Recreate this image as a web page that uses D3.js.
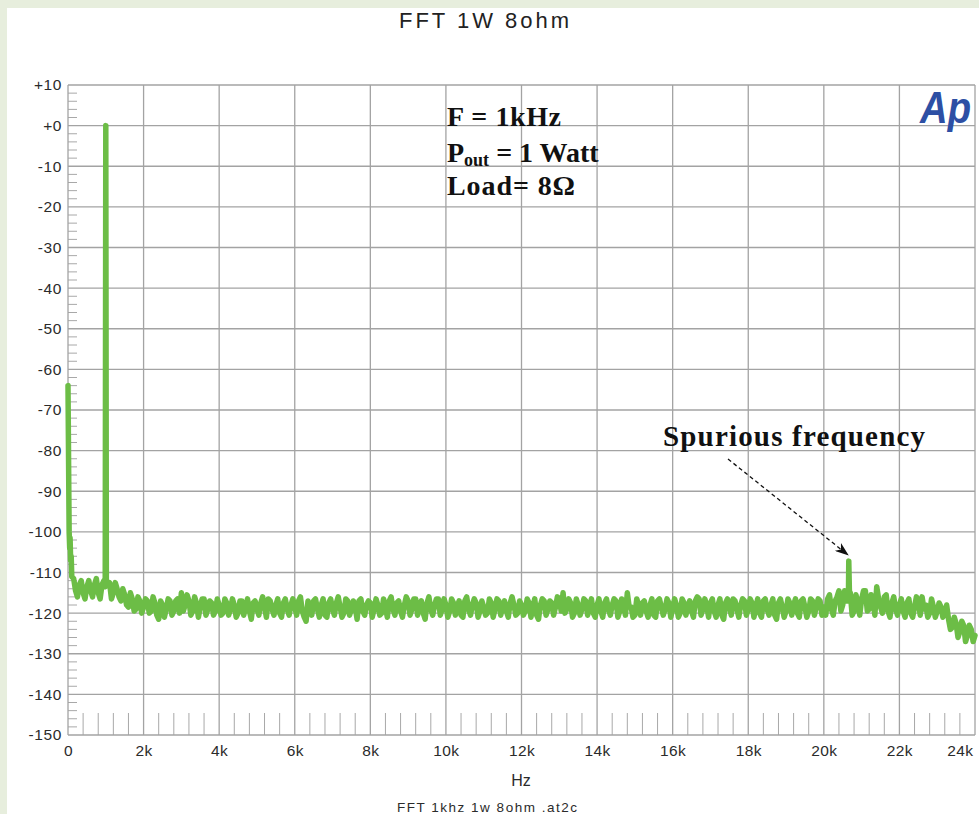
<!DOCTYPE html>
<html>
<head>
<meta charset="utf-8">
<script src="https://cdn.jsdelivr.net/npm/d3@7"></script>
<style>
  html, body { margin: 0; padding: 0; background: #e7eedd; }
  svg { display: block; }
</style>
</head>
<body>
<svg id="chart" width="979" height="814"></svg>
<script>
// FFT trace, one reading every 100 Hz from 0 Hz to 24 kHz (dBV)
var binStepHz = 100;
var noiseDb = [
    -64, -111, -114.5, -113, -115, -113.5, -114.5, -113, -115, -113,
    0, -112.5, -115, -114, -117, -115.5, -118.5, -116.5, -119, -117,
    -118.5, -117, -119.5, -117.5, -121.5, -118, -119, -117, -119.5, -116.5,
    -115, -118, -117, -119.5, -117.5, -118.5, -116.5, -119, -117.5, -119.5,
    -118, -120, -117.5, -119, -118, -120, -117, -118.5, -119.5, -117.5,
    -119, -117.5, -118.5, -116.5, -119, -118, -120, -117.5, -119, -118,
    -118.5, -117, -119.5, -122, -118, -117, -119, -118, -120.5, -117.5,
    -119, -117.5, -118.5, -120, -117, -119, -118.5, -117, -119.5, -118,
    -117.5, -119, -118, -120, -118.5, -117, -119, -117.5, -119.5, -118,
    -117, -119, -116.5, -118.5, -120, -117.5, -119, -118, -116.5, -119,
    -118, -119.5, -117.5, -118.5, -120.5, -117, -119, -118, -117.5, -119.5,
    -118.5, -120, -117.5, -119, -117, -118.5, -119.5, -117.5, -118, -120,
    -118, -119.5, -117.5, -118.5, -120.5, -118, -117, -119, -117.5, -118.5,
    -116.5, -115, -119, -117.5, -120, -118, -119, -117, -118.5, -120,
    -118, -119.5, -117.5, -119, -118, -117, -119.5, -118, -115, -118.5,
    -120.5, -118, -117.5, -119.5, -118, -120.5, -117, -118.5, -119, -117.5,
    -119, -118, -120, -117.5, -118.5, -119.5, -117, -116.5, -119, -118,
    -117.5, -119.5, -118, -120.5, -117.5, -118.5, -116.5, -119, -118, -117,
    -119, -117.5, -118.5, -120, -117, -119, -118, -120.5, -117.5, -118.5,
    -119.5, -117.5, -118, -120, -117, -118.5, -119.5, -117, -118.5, -117,
    -118.5, -116.5, -119, -117, -114.5, -118, -117, -115, -119.5, -117.5,
    -116.5, -114.5, -119, -117, -113.5, -118.5, -116, -119.5, -117.5, -119,
    -118, -119.5, -117.5, -120, -118.5, -117, -116, -118, -120, -118.5,
    -119.5, -118.5, -120, -121.5, -123.5, -122.5, -124.5, -123, -125.5, -124,
    -125.5
];

// readings half way between the bins above, from 150 Hz to 23.95 kHz
var midStartHz = 150;
var midDb = [
    -111.5, -116, -112, -116.5, -112, -116, -111.5, -116.5, -112,
    -113, -116.5, -112.5, -116, -114, -118, -115, -119.5, -116, -120,
    -116.5, -120, -116, -120.5, -117, -121, -116.5, -120.5, -117, -120,
    -119.5, -115.5, -120.5, -116, -121, -116.5, -120.5, -117, -120.5, -116.5,
    -120.5, -116.5, -120.5, -116.5, -121, -117, -120.5, -116.5, -121.5, -117,
    -120.5, -116, -121, -117, -120.5, -116.5, -121, -116.5, -120.5, -116.5,
    -120.5, -116, -121, -117, -120.5, -116.5, -121, -116.5, -121, -116.5,
    -120.5, -116, -121, -116.5, -120.5, -117, -121.5, -116.5, -120.5, -117,
    -121, -116.5, -120.5, -116.5, -121, -116, -120.5, -117, -121, -116,
    -120.5, -116.5, -120.5, -117, -121.5, -116, -120.5, -116.5, -120.5, -116.5,
    -121, -116.5, -120.5, -117, -121, -116, -120.5, -116.5, -121, -117,
    -120.5, -116.5, -121, -116.5, -120.5, -117, -121, -116, -120.5, -117,
    -120.5, -116.5, -121, -116.5, -121.5, -116.5, -120.5, -117, -120.5, -116,
    -119.5, -120, -116.5, -121, -116.5, -120.5, -116.5, -120.5, -116.5, -121,
    -116.5, -121, -116.5, -120.5, -116.5, -121, -116.5, -120.5, -118.5, -121,
    -116.5, -120.5, -117, -121, -116.5, -121, -116.5, -120.5, -116.5, -121,
    -116.5, -121, -116.5, -120.5, -117, -121, -116, -120.5, -116.5, -121,
    -116.5, -121, -116.5, -121.5, -116.5, -120.5, -117, -121, -116.5, -120.5,
    -116.5, -121, -116.5, -121, -116.5, -120.5, -116.5, -121.5, -116.5, -121,
    -116.5, -120.5, -116.5, -121, -116.5, -121, -116.5, -120.5, -116.5, -120.5,
    -120.5, -115.5, -120.5, -116, -119.5, -114.5, -117, -120.5, -115.5, -120.5,
    -114.5, -119.5, -115.5, -120.5, -116.5, -120, -115.5, -121, -116, -120.5,
    -116.5, -121, -116.5, -121, -116, -120.5, -119, -121, -116.5, -121,
    -117.5, -121, -118, -124, -121, -126, -122, -127, -123, -127
];

// extra readings where the trace moves fastest (DC skirt, 1 kHz tone, spur)
var detailHz = [30, 45, 55, 70, 85, 985, 1015, 20640, 20660, 20680];
var detailDb = [-100, -104, -101.5, -107, -106, -113.5, -112, -116.5, -107.2, -116];

var yTicks = [10, 0, -10, -20, -30, -40, -50, -60, -70, -80, -90, -100, -110, -120, -130, -140, -150];
var yTickLabels = ["+10", "+0", "-10", "-20", "-30", "-40", "-50", "-60", "-70", "-80", "-90", "-100", "-110", "-120", "-130", "-140", "-150"];
var xTicks = [0, 2000, 4000, 6000, 8000, 10000, 12000, 14000, 16000, 18000, 20000, 22000, 24000];
var xTickLabels = ["0", "2k", "4k", "6k", "8k", "10k", "12k", "14k", "16k", "18k", "20k", "22k", "24k"];

var sans = "'Liberation Sans', Arial, sans-serif";
var serif = "'Liberation Serif', 'Times New Roman', serif";

var svg = d3.select("#chart");

// white sheet on the pale green page
svg.append("rect")
    .attr("x", 7).attr("y", 8)
    .attr("width", 972).attr("height", 806)
    .attr("fill", "#ffffff");

var x = d3.scaleLinear().domain([0, 24000]).range([68, 975]);
var y = d3.scaleLinear().domain([10, -150]).range([85, 735]);

var grid = svg.append("g");

// minor ticks: every 2 dB on the left, every 400 Hz along the bottom
var yMinor = d3.range(10, -150, -2).filter(function(v) { return v % 10 !== 0; });
grid.selectAll("line.ym")
    .data(yMinor)
    .join("line")
    .attr("class", "ym")
    .attr("x1", x(0)).attr("x2", x(0) + 9)
    .attr("y1", d => y(d)).attr("y2", d => y(d))
    .attr("stroke", "#a8a8a8").attr("stroke-width", 1);

var xMinor = d3.range(400, 24000, 400).filter(function(v) { return v % 2000 !== 0; });
grid.selectAll("line.xm")
    .data(xMinor)
    .join("line")
    .attr("class", "xm")
    .attr("x1", d => x(d)).attr("x2", d => x(d))
    .attr("y1", y(-150) - 22).attr("y2", y(-150))
    .attr("stroke", "#a8a8a8").attr("stroke-width", 1);

// major grid
grid.selectAll("line.yg")
    .data(yTicks)
    .join("line")
    .attr("class", "yg")
    .attr("x1", x(0)).attr("x2", x(24000))
    .attr("y1", d => y(d)).attr("y2", d => y(d))
    .attr("stroke", "#a3a3a3").attr("stroke-width", 1.3);

grid.selectAll("line.xg")
    .data(xTicks)
    .join("line")
    .attr("class", "xg")
    .attr("x1", d => x(d)).attr("x2", d => x(d))
    .attr("y1", y(10)).attr("y2", y(-150))
    .attr("stroke", "#a3a3a3").attr("stroke-width", 1.3);

// tick labels
var yAxis = d3.axisLeft(y).tickValues(yTicks).tickSize(0).tickPadding(6)
    .tickFormat(function(d, i) { return yTickLabels[i]; });
var gy = svg.append("g").attr("transform", "translate(" + x(0) + ",0)").call(yAxis);
gy.select(".domain").remove();
gy.selectAll("text")
    .attr("font-family", sans).attr("font-size", 15.5)
    .attr("letter-spacing", 0.6)
    .attr("fill", "#2b2b2b");

var xAxis = d3.axisBottom(x).tickValues(xTicks).tickSize(0).tickPadding(10)
    .tickFormat(function(d, i) { return xTickLabels[i]; });
var gx = svg.append("g").attr("transform", "translate(0," + y(-150) + ")").call(xAxis);
gx.select(".domain").remove();
gx.selectAll("text")
    .attr("font-family", sans).attr("font-size", 15.5)
    .attr("letter-spacing", 0.4)
    .attr("fill", "#2b2b2b");
// last label sits inside the frame
gx.selectAll(".tick").filter(d => d === 24000).select("text")
    .attr("text-anchor", "end").attr("dx", -2);

// trace
var points = noiseDb.map(function(v, i) { return [i * binStepHz, v]; });
midDb.forEach(function(v, i) { points.push([midStartHz + i * binStepHz, v]); });
detailHz.forEach(function(f, i) { points.push([f, detailDb[i]]); });
points.sort(function(a, b) { return a[0] - b[0]; });

var line = d3.line()
    .x(d => x(d[0]))
    .y(d => y(d[1]));

svg.append("path")
    .datum(points)
    .attr("d", line)
    .attr("fill", "none")
    .attr("stroke", "#6cbd46")
    .attr("stroke-width", 5.5)
    .attr("stroke-linejoin", "round")
    .attr("stroke-linecap", "round");

// titles
svg.append("text")
    .attr("x", 484).attr("y", 28)
    .attr("text-anchor", "middle")
    .attr("font-family", sans).attr("font-size", 22)
    .attr("textLength", 170).attr("lengthAdjust", "spacing")
    .attr("fill", "#222")
    .text("FFT 1W 8ohm");

svg.append("text")
    .attr("x", 521).attr("y", 786)
    .attr("text-anchor", "middle")
    .attr("font-family", sans).attr("font-size", 16)
    .attr("fill", "#2b2b2b")
    .text("Hz");

svg.append("text")
    .attr("x", 487).attr("y", 812)
    .attr("text-anchor", "middle")
    .attr("font-family", sans).attr("font-size", 13.5)
    .attr("textLength", 180).attr("lengthAdjust", "spacing")
    .attr("fill", "#2b2b2b")
    .text("FFT 1khz 1w 8ohm .at2c");

// Ap logo
svg.append("text")
    .attr("x", 920).attr("y", 123)
    .attr("font-family", sans).attr("font-size", 44)
    .attr("font-weight", "bold").attr("font-style", "italic")
    .attr("textLength", 51).attr("lengthAdjust", "spacingAndGlyphs")
    .attr("fill", "#2d4fa4")
    .text("Ap");

// measurement notes
var notes = svg.append("g")
    .attr("font-family", serif).attr("font-weight", "bold")
    .attr("font-size", 28).attr("fill", "#111");

notes.append("text").attr("x", 447).attr("y", 126)
    .attr("textLength", 114).attr("lengthAdjust", "spacing")
    .text("F = 1kHz");

var pout = notes.append("text").attr("x", 447).attr("y", 162);
pout.append("tspan").text("P");
pout.append("tspan").attr("font-size", 18).attr("dy", 4).text("out");
pout.append("tspan").attr("dy", -4).text(" = 1 Watt");

notes.append("text").attr("x", 447).attr("y", 195)
    .attr("textLength", 128).attr("lengthAdjust", "spacing")
    .text("Load= 8\u03A9");

notes.append("text").attr("x", 663).attr("y", 446)
    .attr("font-size", 29)
    .attr("textLength", 262).attr("lengthAdjust", "spacing")
    .text("Spurious frequency");

// dashed pointer to the spur
svg.append("defs").append("marker")
    .attr("id", "head")
    .attr("viewBox", "0 0 14 10")
    .attr("refX", 13).attr("refY", 5)
    .attr("markerWidth", 14).attr("markerHeight", 10)
    .attr("markerUnits", "userSpaceOnUse")
    .attr("orient", "auto")
    .append("path")
    .attr("d", "M0,0 L14,5 L0,10 L4,5 Z")
    .attr("fill", "#111");

svg.append("line")
    .attr("x1", 728).attr("y1", 459)
    .attr("x2", 848).attr("y2", 555)
    .attr("stroke", "#111").attr("stroke-width", 1.3)
    .attr("stroke-dasharray", "4,3")
    .attr("marker-end", "url(#head)");
</script>
</body>
</html>
